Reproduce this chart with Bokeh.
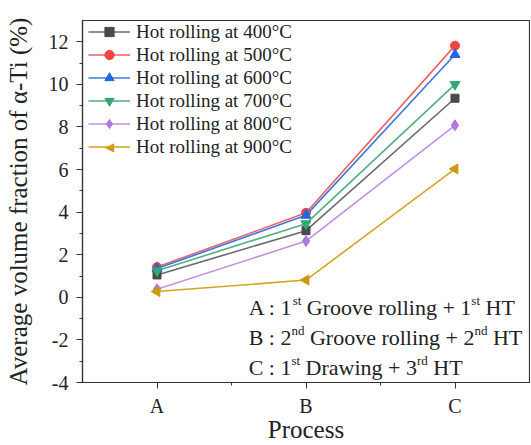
import math
from bokeh.plotting import figure
from bokeh.models import Label, Legend, LegendItem, FixedTicker, Range1d
from bokeh.core.properties import value
from bokeh.embed import file_html
from bokeh.resources import INLINE

# ---- data ----
processes = ["A", "B", "C"]
process_x = [0, 1, 2]
series_names = ["Hot rolling at 400°C", "Hot rolling at 500°C", "Hot rolling at 600°C",
                "Hot rolling at 700°C", "Hot rolling at 800°C", "Hot rolling at 900°C"]
y400 = [1.05, 3.13, 9.35]
y500 = [1.42, 3.97, 11.82]
y600 = [1.35, 3.85, 11.40]
y700 = [1.25, 3.46, 10.00]
y800 = [0.38, 2.64, 8.08]
y900 = [0.27, 0.81, 6.03]
y_ticks = [-4, -2, 0, 2, 4, 6, 8, 10, 12]

FONT = "Liberation Serif"
FW, FH = 447, 362

p = figure(frame_width=FW, frame_height=FH, output_backend="svg", toolbar_location=None,
           x_range=Range1d(-0.5, 2.5), y_range=Range1d(-4, 13),
           min_border_left=82, min_border_top=20, min_border_right=1, min_border_bottom=4)
p.background_fill_color = "white"
p.border_fill_color = "white"
p.xgrid.visible = False
p.ygrid.visible = False
p.outline_line_color = "#333333"
p.outline_line_width = 1.2

p.xaxis.ticker = FixedTicker(ticks=process_x, minor_ticks=[0.5, 1.5])
p.xaxis.major_label_overrides = {x: lab for x, lab in zip(process_x, processes)}
p.yaxis.ticker = FixedTicker(ticks=y_ticks, minor_ticks=[-3, -1, 1, 3, 5, 7, 9, 11])
p.yaxis.major_label_overrides = {t: str(t) for t in y_ticks}
for ax in (p.xaxis[0], p.yaxis[0]):
    ax.axis_line_color = "#333333"
    ax.axis_line_width = 1.2
    ax.major_tick_line_color = "#333333"
    ax.minor_tick_line_color = "#333333"
    ax.major_tick_out = 6
    ax.major_tick_in = 0
    ax.minor_tick_out = 3
    ax.minor_tick_in = 0
    ax.major_label_text_font = FONT
    ax.major_label_text_font_size = "20px"
    ax.major_label_text_color = "#222222"
    ax.axis_label_text_font = FONT
    ax.axis_label_text_font_size = "25px"
    ax.axis_label_text_font_style = "normal"
    ax.axis_label_text_color = "#222222"
p.xaxis.axis_label = "Process"
p.xaxis.major_label_standoff = 6
p.xaxis.axis_label_standoff = -4
p.yaxis.axis_label = "Average volume fraction of α-Ti (%)"
p.yaxis.major_label_standoff = 8
p.yaxis.axis_label_standoff = 14

colors = ["#4a4a4a", "#f04444", "#2166e0", "#34a874", "#b277e0", "#cc9a10"]
line_colors = ["#6a6a6a", "#f06060", "#3a78e0", "#50b080", "#c090e6", "#d4a520"]
series = [y400, y500, y600, y700, y800, y900]
markers = ["square", "circle", "triangle", "inverted_triangle", "diamond", "triangle"]
sizes = [8, 9, 10, 10, 11, 10]
angles = [0, 0, 0, 0, 0, math.pi / 2]

items = []
for name, ys, c, lc, m, s, a in zip(series_names, series, colors, line_colors, markers, sizes, angles):
    r1 = p.line(process_x, ys, line_color=lc, line_width=1.6)
    r2 = p.scatter(process_x, ys, marker=m, size=s, angle=a, fill_color=c, line_color=c)
    # the legend does not rotate markers, so the left-pointing one is drawn on top below
    items.append(LegendItem(label=name, renderers=[r1] if a else [r1, r2]))

ROW = 23
GLYPH_W = 42
LEG_X = 6
legend = Legend(items=items, location=(LEG_X, FH - ROW * len(items)), padding=0, margin=0, spacing=0,
                label_height=ROW, glyph_height=ROW, glyph_width=GLYPH_W, label_standoff=6,
                label_text_font=FONT, label_text_font_size="19px", label_text_color="#222222",
                border_line_color=None, background_fill_alpha=0)
p.add_layout(legend)

# left-pointing triangle for the last legend entry
p.add_layout(Label(x=LEG_X + GLYPH_W / 2, y=FH - ROW * (len(items) - 0.5), x_units="screen", y_units="screen",
                   text="◀", text_font="DejaVu Sans", text_font_size="12px", text_color=colors[5],
                   text_align="center", text_baseline="middle"))

# ---- annotation with superscripts ----
TW = {"A": 722, "B": 667, "C": 667, "D": 722, "G": 722, "H": 722, "T": 611, " ": 250,
      ":": 278, "1": 500, "2": 500, "3": 500, "r": 333, "o": 500, "v": 500, "e": 444,
      "l": 278, "i": 278, "n": 500, "g": 500, "+": 564, "a": 444, "w": 722, "s": 389,
      "t": 278, "d": 500}

def tw(s, size):
    return sum(TW.get(ch, 500) for ch in s) / 1000.0 * size

MAIN, SUP = 22, 13
ann_lines = [
    [("A : 1", 0), ("st", 1), (" Groove rolling + 1", 0), ("st", 1), (" HT", 0)],
    [("B : 2", 0), ("nd", 1), (" Groove rolling + 2", 0), ("nd", 1), (" HT", 0)],
    [("C : 1", 0), ("st", 1), (" Drawing + 3", 0), ("rd", 1), (" HT", 0)],
]
ann_y = [-0.5, -1.9, -3.3]
ann_x = 0.615
for pieces, yv in zip(ann_lines, ann_y):
    off = 0.0
    for txt, sup in pieces:
        size = SUP if sup else MAIN
        stripped = txt.lstrip(" ")
        off += tw(txt[:len(txt) - len(stripped)], size)
        p.add_layout(Label(x=ann_x, y=yv, x_offset=off, y_offset=(7 if sup else 0),
                           text=stripped, text_font=FONT, text_font_size=f"{size}px",
                           text_color="#222222", text_baseline="middle", text_align="left"))
        off += tw(stripped, size)

open("out.html", "w").write(file_html(p, INLINE))
